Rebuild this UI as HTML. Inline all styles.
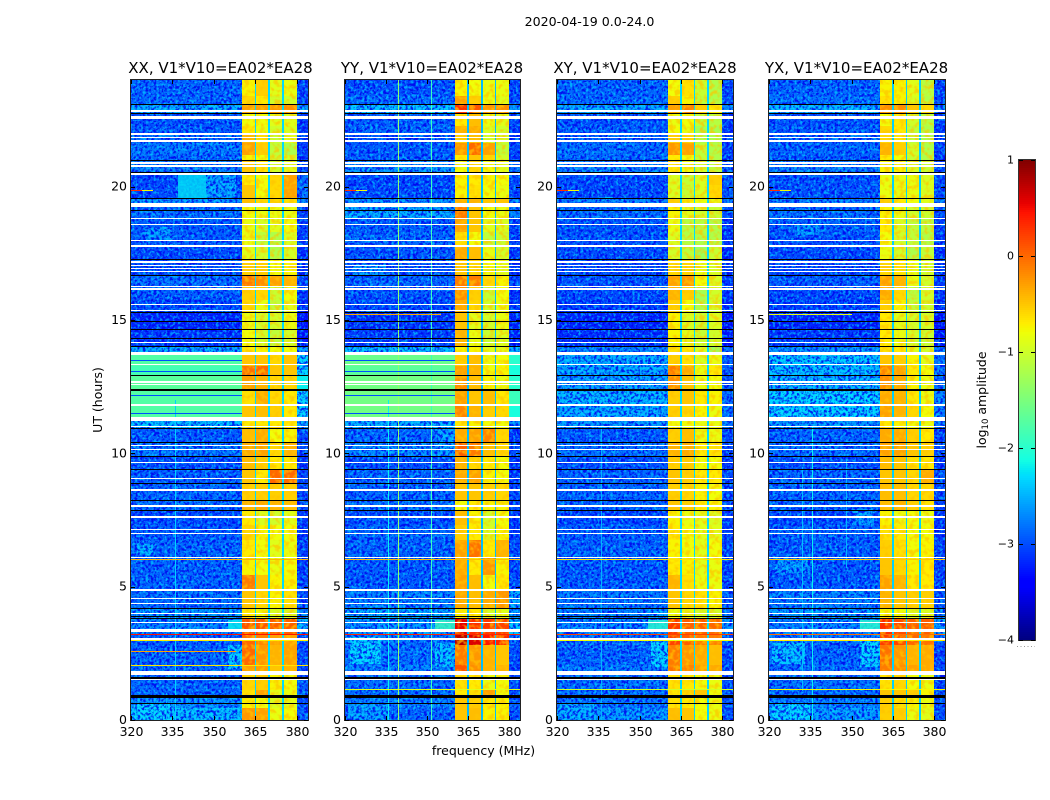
<!DOCTYPE html>
<html lang="en">
<head>
<meta charset="utf-8">
<title>2020-04-19 0.0-24.0</title>
<style>
html,body{margin:0;padding:0;background:#fff;width:1050px;height:800px;overflow:hidden}
svg{display:block}
text{font-family:"DejaVu Sans","Liberation Sans",sans-serif;fill:#000}
</style>
</head>
<body>
<svg id="fig" xmlns="http://www.w3.org/2000/svg" width="1050" height="800" viewBox="0 0 1050 800">
  <defs id="defs">
    <filter id="noise-dark" x="0" y="0" width="100%" height="100%">
      <feTurbulence type="fractalNoise" baseFrequency="0.37" numOctaves="2" seed="4"/>
      <feColorMatrix type="matrix" values="0 0 0 0 0  0 0 0 0 0  0 0 0 0 0.85  5 0 0 0 -2.2"/>
    </filter>
    <filter id="noise-light" x="0" y="0" width="100%" height="100%">
      <feTurbulence type="fractalNoise" baseFrequency="0.37" numOctaves="2" seed="11"/>
      <feColorMatrix type="matrix" values="0 0 0 0 0  0 0 0 0 0.72  0 0 0 0 1  0 5 0 0 -2.5"/>
    </filter>
    <filter id="noise-band" x="0" y="0" width="100%" height="100%">
      <feTurbulence type="fractalNoise" baseFrequency="0.2" numOctaves="2" seed="7"/>
      <feColorMatrix type="matrix" values="0 0 0 0 1  0 0 0 0 0.55  0 0 0 0 0  4 0 0 0 -1.8"/>
    </filter>
  </defs>
  <text x="589.5" y="26" font-size="12.6" text-anchor="middle">2020-04-19 0.0-24.0</text>
  <text x="483.5" y="755" font-size="12.5" text-anchor="middle">frequency (MHz)</text>
  <text transform="translate(102,400) rotate(-90)" font-size="12.5" text-anchor="middle">UT (hours)</text>
  <text transform="translate(986,400) rotate(-90)" font-size="12.5" text-anchor="middle">log<tspan font-size="8.5" dy="2">10</tspan><tspan dy="-2"> amplitude</tspan></text>
  <g id="panels"></g>
  <g id="colorbar"></g>
</svg>
<script>
// ---------- chart data (log10 amplitude, UT hours, MHz) ----------
const panelTitles = ["XX, V1*V10=EA02*EA28", "YY, V1*V10=EA02*EA28", "XY, V1*V10=EA02*EA28", "YX, V1*V10=EA02*EA28"];
const freqTicks = [320, 335, 350, 365, 380];
const utTicks = [0, 5, 10, 15, 20];
const cbarTicks = [1, 0, -1, -2, -3, -4];
const freqEdges = [320, 360.3, 365, 370, 375, 380, 384];
const bandGaps = [365, 370, 375];
const utEdges = [24,23.4,23.06,22.76,22.28,22.01,21.64,21.19,20.96,20.55,20.06,19.58,19.31,18.83,18.3,17.78,17.25,16.69,16.24,15.75,15.3,14.66,14.03,13.72,13.27,12.94,12.38,11.85,11.29,10.95,10.43,9.9,9.41,8.89,8.25,7.87,7.31,6.75,6.11,5.44,4.87,4.16,3.82,3.22,2.81,2.06,1.76,1.12,0.86,0.45,0];

const xxRows = [
[-2.85,-.75,-.55,-.9,-.85,-3.0],[-2.85,-.6,-.7,-1.0,-1.0,-3.0],[-2.5,-.3,-.3,-.25,-.2,-2.6],[-2.95,-.8,-.8,-.9,-.9,-3.1],[-2.9,-.7,-.85,-1.0,-.95,-3.1],
[-2.85,-.4,-.65,-1.05,-.9,-3.1],[-2.75,-.3,-.55,-1.1,-1.2,-3.05],[-2.85,-.75,-.8,-1.05,-1.0,-3.1],[-2.7,-.5,-.65,-1.0,-.9,-3.0],[-3.0,-.7,-.8,-.6,-.3,-2.8],
[-3.0,-.5,-.8,-.6,-.3,-2.8],[-2.6,-.45,-.6,-.6,-.65,-2.6],[-2.8,-.8,-.85,-.85,-.85,-3.0],[-2.9,-.85,-.95,-.9,-.8,-3.0],[-2.9,-.85,-1.1,-1.2,-.95,-3.1],
[-3.0,-.9,-1.0,-1.2,-1.0,-3.2],[-2.95,-.55,-.55,-.8,-.75,-3.1],[-2.8,-.1,-.2,-.3,-.4,-3.0],[-2.9,-.55,-.6,-1.05,-.8,-3.1],[-3.0,-.6,-.85,-1.1,-.9,-3.2],
[-3.2,-.85,-1.0,-1.0,-.85,-3.3],[-3.1,-.8,-1.0,-1.1,-1.0,-3.3],[-2.5,-.7,-.75,-.8,-.8,-2.6],[-1.75,-.5,-.5,-.6,-.5,-2.3],[-1.85,-.05,0,-.5,-.5,-2.3],
[-1.7,-.3,-.4,-.6,-.6,-2.2],[-1.75,-.65,-.35,-.6,-.7,-2.3],[-1.75,-.5,-.45,-.55,-.7,-2.3],[-2.4,-.7,-.7,-.7,-.7,-2.5],[-2.9,-.45,-.35,-.8,-.75,-3.0],
[-2.75,-.35,-.3,-.6,-.4,-3.0],[-2.95,-.45,-.55,-.7,-.7,-3.1],[-2.9,-.5,-.7,0,0,-3.0],[-2.85,-.55,-.55,-.55,-.55,-3.0],[-2.8,-.4,-.35,-.4,-.45,-3.0],
[-3.0,-.7,-.95,-1.0,-.9,-3.1],[-2.9,-.6,-.75,-.8,-.8,-3.1],[-2.85,-.7,-.8,-.9,-.85,-3.0],[-2.85,-.75,-.8,-.85,-.8,-3.05],[-2.85,-.1,-.5,-.75,-.75,-3.0],
[-2.8,-.5,-.6,-.75,-.65,-3.0],[-2.6,-.7,-.8,-.95,-.95,-2.7],[-2.7,.1,.1,.05,.05,-2.5],[-2.9,0,-.15,-.3,-.3,-3.0],[-2.85,0,-.25,-.4,-.3,-3.0],
[-2.8,-.3,-.3,-.5,-.4,-3.0],[-2.85,-.6,-.55,-.75,-.8,-2.9],[-2.85,-.65,-.3,-.9,-.85,-2.8],[-2.6,-.75,-.8,-.95,-.9,-3.0],[-2.4,-.25,-.3,-.85,-.8,-2.9]];

const yyRows = [
[-2.95,-.75,-.8,-.85,-.85,-3.0],[-2.8,-.3,-.55,-.85,-.9,-2.95],[-2.4,.3,.1,-.25,-.2,-2.6],[-2.9,-.7,-.45,-.85,-.9,-3.0],[-2.85,-.4,-.35,-.95,-1.0,-3.1],
[-2.95,-.55,-.45,-1.0,-1.0,-3.1],[-2.9,-.25,0,-.3,-1.1,-3.0],[-2.9,-.7,-.5,-.6,-1.0,-3.1],[-2.6,-.8,-.6,-.8,-.9,-2.8],[-3.0,-.75,-.7,-.75,-.8,-3.0],
[-3.0,-.75,-.65,-.8,-.85,-3.0],[-2.6,-.4,-.4,-.5,-.5,-2.7],[-2.5,-.1,-.5,-.8,-.85,-2.7],[-2.9,-.3,-.5,-.9,-.95,-3.0],[-2.85,-.65,-.8,-1.1,-1.05,-3.0],
[-2.95,-.35,-.45,-.85,-1.0,-3.1],[-2.95,-.5,-.6,-.8,-.9,-3.1],[-2.85,-.1,-.1,-.6,-.75,-3.0],[-2.95,-.2,-.55,-1.05,-.8,-3.1],[-3.0,-.35,-.6,-1.0,-.85,-3.1],
[-3.1,-.5,-.9,-1.0,-.85,-3.2],[-3.05,-.4,-.85,-1.05,-.95,-3.2],[-2.4,-.75,-.75,-.9,-.9,-2.5],[-1.6,-.55,-.45,-.85,-.8,-2.0],[-1.7,-.3,-.4,-.8,-.75,-2.1],
[-1.55,-.2,-.45,-.75,-.85,-2.0],[-1.55,-.3,-.5,-.45,-.7,-1.9],[-1.55,-.15,-.4,-.55,-.6,-2.1],[-2.5,-.7,-.75,-.8,-.8,-2.7],[-2.85,-.35,-.3,-.15,-.6,-3.1],
[-2.7,.05,-.1,-.45,-.6,-3.0],[-2.95,-.4,-.6,-.7,-.8,-3.1],[-2.85,-.35,-.3,-.75,-.8,-3.1],[-2.85,-.5,-.5,-.55,-.6,-3.0],[-2.8,-.8,-.7,-.75,-.75,-3.0],
[-2.95,-.45,-.75,-1.0,-.8,-3.1],[-2.85,-.55,-.7,-.95,-.75,-3.1],[-2.85,-.3,-.05,-.7,-.4,-3.0],[-2.9,-.35,-.7,-.25,-.75,-3.05],[-2.9,-.3,-.45,-.8,-.7,-3.0],
[-2.7,-.35,-.45,-.35,-.25,-2.5],[-2.5,-.75,-.7,-1.0,-.9,-2.6],[-2.6,.55,.3,.25,.2,-2.4],[-2.75,.75,.6,.45,.35,-2.8],[-2.8,-.1,-.25,-.4,-.5,-3.0],
[-2.7,.1,-.2,-.4,-.4,-3.0],[-2.8,-.65,-.7,-.85,-.8,-3.0],[-2.8,-.7,-.65,-.3,-.8,-2.9],[-2.7,-.5,-.55,-.7,-.75,-2.9],[-2.85,-.5,-.45,-.75,-.75,-2.95]];

const xyRows = [
[-2.85,-.8,-.65,-1.05,-1.2,-3.0],[-2.8,-.55,-.75,-1.1,-1.2,-3.0],[-2.5,-.3,-.15,-.55,-.7,-2.7],[-2.95,-.85,-.8,-1.1,-1.15,-3.1],[-2.9,-.8,-.85,-1.25,-1.25,-3.1],
[-2.9,-.55,-.6,-1.2,-1.2,-3.1],[-2.8,-.25,-.3,-1.1,-1.2,-3.05],[-2.85,-.7,-.8,-1.1,-1.2,-3.1],[-2.7,-.7,-.8,-1.0,-1.1,-3.0],[-3.0,-.95,-1.05,-.95,-.55,-2.9],
[-3.0,-.95,-1.05,-.95,-.6,-2.9],[-2.7,-.55,-.75,-.85,-.85,-2.8],[-2.8,-.75,-.9,-1.0,-1.05,-3.0],[-2.95,-.85,-1.15,-1.15,-1.2,-3.1],[-2.95,-.95,-1.15,-1.2,-1.2,-3.1],
[-3.0,-1.0,-1.1,-1.3,-1.05,-3.2],[-3.0,-.6,-.6,-.85,-.95,-3.1],[-2.95,-.3,-.25,-.8,-.95,-3.1],[-3.0,-.4,-.55,-1.25,-1.0,-3.1],[-3.05,-.55,-.8,-1.2,-1.0,-3.2],
[-3.2,-.75,-.95,-1.05,-.95,-3.3],[-3.15,-.75,-.9,-1.05,-1.0,-3.3],[-2.7,-.65,-.7,-.95,-1.3,-2.8],[-2.5,-.55,-.65,-.95,-.85,-2.9],[-2.5,-.1,-.35,-.85,-.7,-2.9],
[-2.55,-.2,-.5,-.85,-.8,-2.9],[-2.45,-.55,-.5,-.7,-.75,-2.8],[-2.5,-.55,-.6,-.75,-.85,-2.8],[-2.6,-.8,-.8,-.85,-.85,-2.8],[-2.9,-.55,-.45,-.85,-.85,-3.0],
[-2.8,-.4,-.35,-.7,-.65,-3.0],[-2.95,-.55,-.55,-.8,-.8,-3.1],[-2.85,-.5,-.55,-.7,-.7,-3.0],[-2.85,-.55,-.6,-.75,-.8,-3.0],[-2.85,-.5,-.55,-.7,-.75,-3.0],
[-3.0,-.75,-.85,-.9,-.95,-3.1],[-2.9,-.7,-.8,-.9,-.9,-3.1],[-2.85,-.75,-.8,-.9,-.8,-3.0],[-2.9,-.7,-.75,-.9,-.85,-3.05],[-2.9,-.4,-.65,-.85,-.85,-3.0],
[-2.75,-.5,-.6,-.65,-.75,-2.9],[-2.7,-.85,-.85,-1.0,-1.0,-2.8],[-2.7,.25,.05,.05,0,-2.6],[-2.8,.2,.05,-.1,-.1,-2.9],[-2.85,-.1,-.25,-.35,-.45,-3.0],
[-2.75,-.05,-.15,-.3,-.35,-3.0],[-2.8,-.65,-.7,-.8,-.85,-3.0],[-2.8,-.7,-.6,-.5,-.8,-2.9],[-2.75,-.65,-.7,-.8,-.85,-2.95],[-2.6,-.45,-.5,-.8,-.85,-2.95]];

const yxRows = [
[-2.85,-.75,-.75,-.9,-1.15,-3.0],[-2.8,-.65,-.75,-.95,-1.2,-3.0],[-2.45,-.2,-.2,-.5,-.6,-2.7],[-2.95,-.8,-.7,-1.0,-1.15,-3.1],[-2.9,-.6,-.7,-1.1,-1.2,-3.1],
[-2.9,-.6,-.65,-1.1,-1.2,-3.1],[-2.85,-.4,-.55,-1.0,-1.2,-3.05],[-2.9,-.7,-.8,-1.05,-1.2,-3.1],[-2.7,-.75,-.75,-.95,-1.05,-3.0],[-2.95,-.85,-.85,-.85,-.95,-3.0],
[-2.95,-.85,-.85,-.85,-.95,-3.0],[-2.7,-.55,-.7,-.8,-.9,-2.8],[-2.8,-.75,-.85,-1.0,-1.05,-3.0],[-2.85,-.7,-.95,-1.1,-1.15,-3.1],[-2.95,-.8,-1.0,-1.1,-1.2,-3.1],
[-3.0,-.85,-1.0,-1.2,-1.1,-3.2],[-3.0,-.6,-.65,-.85,-1.0,-3.1],[-2.9,-.3,-.4,-.85,-1.0,-3.1],[-3.0,-.35,-.6,-1.15,-1.0,-3.1],[-3.05,-.55,-.75,-1.1,-1.05,-3.2],
[-3.2,-.7,-.9,-1.0,-1.0,-3.3],[-3.1,-.7,-.85,-1.0,-1.05,-3.3],[-2.6,-.65,-.7,-.9,-1.0,-2.8],[-2.35,-.5,-.55,-.75,-.9,-2.8],[-2.4,-.15,-.3,-.7,-.8,-2.8],
[-2.45,-.2,-.35,-.75,-.85,-2.8],[-2.3,-.35,-.4,-.7,-.85,-2.7],[-2.3,-.3,-.4,-.6,-.8,-2.7],[-2.6,-.7,-.75,-.8,-.85,-2.8],[-2.85,-.35,-.35,-.55,-.7,-3.0],
[-2.8,-.3,-.3,-.5,-.55,-3.0],[-2.95,-.45,-.5,-.65,-.7,-3.1],[-2.85,-.5,-.5,-.6,-.35,-2.9],[-2.85,-.45,-.45,-.6,-.6,-3.0],[-2.85,-.45,-.4,-.55,-.65,-3.0],
[-3.0,-.75,-.85,-.8,-.85,-3.1],[-2.85,-.65,-.7,-.8,-.8,-3.1],[-2.9,-.55,-.65,-.8,-.75,-3.0],[-2.9,-.5,-.6,-.75,-.7,-3.05],[-2.9,-.3,-.4,-.7,-.7,-3.0],
[-2.7,-.4,-.5,-.55,-.55,-2.9],[-2.6,-.8,-.8,-.95,-.95,-2.7],[-2.7,.3,.15,.05,.05,-2.6],[-2.8,.25,.2,0,-.05,-2.9],[-2.85,-.05,-.25,-.4,-.35,-3.0],
[-2.8,-.1,-.2,-.3,-.35,-3.0],[-2.8,-.65,-.6,-.8,-.85,-3.0],[-2.8,-.5,-.5,-.55,-.75,-2.9],[-2.7,-.55,-.65,-.75,-.85,-2.95],[-2.55,-.55,-.55,-.85,-.9,-2.95]];

const panelRows = [xxRows, yyRows, xyRows, yxRows];
const gapValues = [-2.3, -2.45, -2.3, -2.35];

// patches: panel index, freq start, freq end, UT start, UT end, value
const patchPanel = [0,0,0,0,0,1,1,1,2,2,3,3,3,3,1,2,2,0,1,3,0,3,1,2,3];
const patchFreqA = [337,347,321,355,355,321,353,354,354,321,321,353,321,322,322,354,335,325,323,350,322,330,353,353,353];
const patchFreqB = [347,358,335,360.3,360.3,336,360.3,360.3,360.3,334,335,360.3,333,334,333,360.3,342,335,335,358,328,338,360.3,360.3,360.3];
const patchUtA  = [19.56,19.56,0,1.9,3.3,0,2.0,9.9,2.0,0,0,2.0,2.1,5.5,2.1,3.85,20.55,18.0,16.7,7.3,6.2,18.2,3.3,3.3,3.3];
const patchUtB  = [20.5,20.5,0.62,2.8,3.75,0.6,2.9,10.9,3.0,0.6,0.6,3.0,2.9,6.1,3.1,4.1,19.6,18.5,17.1,7.9,6.6,18.6,3.75,3.75,3.75];
const patchValue = [-2.25,-2.55,-2.3,-2.35,-2.2,-2.55,-2.4,-2.55,-2.3,-2.5,-2.3,-2.3,-2.4,-2.6,-2.3,-2.5,-2.6,-2.6,-2.6,-2.6,-2.5,-2.6,-1.9,-2.0,-2.0];

// vertical RFI lines: panel index, frequency, value, UT start, UT end
const rfiVPanel = [1,1,1,0,3,3,2,0,3];
const rfiVFreq  = [339.7,351.8,336,336,335.7,332,336,333,348];
const rfiVValue = [-1.4,-1.9,-2.2,-2.35,-2.2,-2.45,-2.5,-2.5,-2.5];
const rfiVUtA   = [0,0,0,0,0,1.1,0,0,5.7];
const rfiVUtB   = [24,24,12,12,11,9.5,11,1,9.8];

// horizontal RFI lines: panel index, UT, freq start, freq end, value
const rfiHPanel = [0,0,1,1,2,2,3,3,0,1,2,3,0,2,3,0,0,1,3,2,0,1,2,3,1,3];
const rfiHUt    = [19.86,19.86,19.86,19.86,19.86,19.86,19.86,19.86,3.21,3.21,3.21,3.21,2.99,2.99,2.99,2.58,2.05,1.15,1.15,1.15,6.03,6.03,6.03,6.03,15.22,15.22];
const rfiHFreqA = [320,324,320,324,320,324,320,324,320,320,320,320,320,320,320,320,320,320,320,320,320,320,320,320,320,320];
const rfiHFreqB = [324,328,324,328,324,328,324,328,384,384,384,384,384,384,384,358,384,384,384,384,384,384,384,384,355,350];
const rfiHValue = [.3,-.8,.3,-.8,.3,-.8,.3,-.8,.45,.35,.2,-.05,-.7,-.8,-.7,-.3,-.65,-.9,-.75,-1.0,-.4,-.45,-.65,-.5,-.35,-.85];

// dark blue channel dropouts in the high-level stretch (XX and YY)
const darkLinesUt = [13.7,13.47,13.07,12.18,11.84,11.5];

// flagged (blank) integrations: centre UT and duration in hours
const whiteUt  = [22.84,22.58,21.98,21.85,21.71,20.89,20.78,20.48,19.31,18.81,18.59,17.99,17.78,17.19,17.04,16.92,16.81,16.25,16.16,15.57,15.36,14.15,13.75,13.34,12.67,12.57,11.81,11.28,11.0,10.3,10.15,9.66,9.05,8.63,8.03,7.61,7.15,7.0,6.1,4.87,4.56,4.37,4.0,3.65,3.35,3.04,1.77,1.53];
const whiteDur = [.05,.11,.05,.05,.05,.05,.09,.1,.12,.05,.05,.05,.07,.08,.05,.05,.05,.05,.05,.05,.05,.05,.09,.05,.05,.05,.05,.13,.05,.05,.05,.05,.05,.1,.1,.1,.05,.05,.05,.05,.05,.05,.05,.05,.1,.05,.14,.07];
const blackUt  = [23.07,22.76,20.97,20.54,19.56,19.11,17.26,16.68,15.29,14.95,14.66,14.31,14.0,12.93,12.375,10.94,10.41,9.89,9.4,8.88,8.24,7.86,4.17,3.87,3.81,1.59,0.87,0.63];
const blackDur = [.04,.04,.04,.05,.04,.04,.04,.04,.05,.04,.04,.04,.04,.05,.04,.04,.04,.04,.04,.04,.04,.04,.05,.04,.04,.08,.11,.04];

// ---------- layout ----------
const panelBoxes = [{x:131,w:177,tc:220.5},{x:345,w:175,tc:432},{x:557,w:176,tc:645},{x:769,w:176,tc:856.5}];
const plotTop = 80, plotHeight = 640, utMax = 24, freqMin = 320, freqMax = 384;
const cbarBox = {x:1019, y:160, w:16, h:480};
const NS = "http://www.w3.org/2000/svg";
const noiseLimit = -2.2;
const smoothPatchLimit = -2.27;

function xAxis(box, f){ return box.x + (f - freqMin) / (freqMax - freqMin) * box.w; }
function yAxis(h){ return plotTop + (utMax - h) / utMax * plotHeight; }
function cbarAxis(v){ return cbarBox.y + (1 - v) / 5 * cbarBox.h; }

function jetChannel(t, pts){
  for (let i = 1; i < pts.length; i++) {
    if (t <= pts[i][0]) {
      const a = pts[i-1], b = pts[i];
      return a[1] + (b[1]-a[1]) * (t-a[0]) / (b[0]-a[0]);
    }
  }
  return pts[pts.length-1][1];
}
function jet(v){
  const t = Math.max(0, Math.min(1, (v + 4) / 5));
  const r = jetChannel(t, [[0,0],[.35,0],[.66,1],[.89,1],[1,.5]]);
  const g = jetChannel(t, [[0,0],[.125,0],[.375,1],[.64,1],[.91,0],[1,0]]);
  const b = jetChannel(t, [[0,.5],[.11,1],[.34,1],[.65,0],[1,0]]);
  return "rgb(" + Math.round(r*255) + "," + Math.round(g*255) + "," + Math.round(b*255) + ")";
}
function make(tag, parent, attrs){
  const el = document.createElementNS(NS, tag);
  for (const k in attrs) el.setAttribute(k, attrs[k]);
  parent.appendChild(el);
  return el;
}
function bar(parent, box, fA, fB, hHi, hLo, fill){
  const x0 = Math.round(xAxis(box, fA)), x1 = Math.round(xAxis(box, fB));
  const y0 = Math.round(yAxis(hHi)), y1 = Math.round(yAxis(hLo));
  return make("rect", parent, {x:x0, y:y0, width:Math.max(1,x1-x0), height:Math.max(1,y1-y0), fill:fill, "shape-rendering":"crispEdges"});
}

const panelsRoot = document.getElementById("panels");
const defsRoot = document.getElementById("defs");
panelBoxes.forEach(function(box, p){
  const g = make("g", panelsRoot, {});
  
  

  const rows = panelRows[p];
  const clip = make("clipPath", defsRoot, {id:"noise-clip-" + p});
  const bandClip = make("clipPath", defsRoot, {id:"band-clip-" + p});
  bar(bandClip, box, freqEdges[1], freqEdges[5], utMax, 0, "#000");
  rows.forEach(function(row, r){
    row.forEach(function(v, c){
      const cell = bar(g, box, freqEdges[c], freqEdges[c+1], utEdges[r], utEdges[r+1], jet(v));
      
      
    });
    if (row[0] < noiseLimit) bar(clip, box, freqEdges[0], freqEdges[1], utEdges[r], utEdges[r+1], "#000");
    if (row[5] < noiseLimit) bar(clip, box, freqEdges[5], freqEdges[6], utEdges[r], utEdges[r+1], "#000");
  });

  const bandNoise = make("g", g, {"clip-path":"url(#band-clip-" + p + ")"});
  
  
  make("rect", bandNoise, {x:box.x, y:plotTop, width:box.w, height:plotHeight, filter:"url(#noise-band)", opacity:0.7});

  patchPanel.forEach(function(pi, i){
    if (pi !== p || patchValue[i] > smoothPatchLimit) return;
    const patch = bar(g, box, patchFreqA[i], patchFreqB[i], patchUtB[i], patchUtA[i], jet(patchValue[i]));
    
    
  });

  bandGaps.forEach(function(f){
    const gap = bar(g, box, f-0.3, f+0.3, utMax, 0, jet(gapValues[p]));
    
    
  });

  const noise = make("g", g, {"clip-path":"url(#noise-clip-" + p + ")"});
  
  
  make("rect", noise, {x:box.x, y:plotTop, width:box.w, height:plotHeight, filter:"url(#noise-dark)", opacity:0.85});
  make("rect", noise, {x:box.x, y:plotTop, width:box.w, height:plotHeight, filter:"url(#noise-light)", opacity:0.6});

  patchPanel.forEach(function(pi, i){
    if (pi !== p || patchValue[i] <= smoothPatchLimit) return;
    const patch = bar(g, box, patchFreqA[i], patchFreqB[i], patchUtB[i], patchUtA[i], jet(patchValue[i]));
    patch.setAttribute('fill-opacity', '0.8');
    
    
  });

  rfiVPanel.forEach(function(pi, i){
    if (pi !== p) return;
    const v = bar(g, box, rfiVFreq[i]-0.18, rfiVFreq[i]+0.18, rfiVUtB[i], rfiVUtA[i], jet(rfiVValue[i]));
    
    
  });

  if (p < 2) darkLinesUt.forEach(function(h){
    const d = bar(g, box, freqMin, 360.3, h+0.02, h-0.02, jet(-3.0));
    
    
  });

  rfiHPanel.forEach(function(pi, i){
    if (pi !== p) return;
    const l = bar(g, box, rfiHFreqA[i], rfiHFreqB[i], rfiHUt[i]+0.02, rfiHUt[i]-0.02, jet(rfiHValue[i]));
    
    
  });

  whiteUt.forEach(function(h, i){
    const w = bar(g, box, freqMin, freqMax, h+whiteDur[i]/2, h-whiteDur[i]/2, "#fff");
    
    
  });
  blackUt.forEach(function(h, i){
    const k = bar(g, box, freqMin, freqMax, h+blackDur[i]/2, h-blackDur[i]/2, "#000");
    
    
  });

  const frame = make("rect", g, {x:box.x-0.5, y:plotTop-0.5, width:box.w+1, height:plotHeight+1, fill:"none", stroke:"#222", "stroke-width":1, "shape-rendering":"crispEdges"});
  
  

  const title = make("text", g, {x:box.tc, y:73, "font-size":"15", "text-anchor":"middle"});
  title.textContent = panelTitles[p];
  
  

  freqTicks.forEach(function(f){
    const x = Math.round(xAxis(box, f)) + 0.5;
    const t1 = make("line", g, {x1:x, x2:x, y1:plotTop+640, y2:plotTop+636, stroke:"#000", "stroke-width":1});
    
    
    const t2 = make("line", g, {x1:x, x2:x, y1:plotTop, y2:plotTop+4, stroke:"#000", "stroke-width":1});
    
    
    const lab = make("text", g, {x:x, y:736, "font-size":"12.5", "text-anchor":"middle"});
    lab.textContent = String(f);
    
    
  });

  utTicks.forEach(function(h){
    const y = Math.round(yAxis(h)) + 0.5;
    const t1 = make("line", g, {x1:box.x, x2:box.x+4, y1:y, y2:y, stroke:"#000", "stroke-width":1});
    
    
    const t2 = make("line", g, {x1:box.x+box.w, x2:box.x+box.w-4, y1:y, y2:y, stroke:"#000", "stroke-width":1});
    
    
    const lab = make("text", g, {x:box.x-4, y:yAxis(h)+4, "font-size":"12.5", "text-anchor":"end"});
    lab.textContent = String(h);
    
    
  });
});

// ---------- colorbar ----------
const cb = document.getElementById("colorbar");
for (let i = 0; i < cbarBox.h; i += 2) {
  const v = 1 - (i + 1) / cbarBox.h * 5;
  const seg = make("rect", cb, {x:cbarBox.x, y:cbarBox.y + i, width:cbarBox.w, height:2, fill:jet(v), "shape-rendering":"crispEdges"});
  
  
}
const cbFrame = make("rect", cb, {x:cbarBox.x-0.5, y:cbarBox.y-0.5, width:cbarBox.w+1, height:cbarBox.h+1, fill:"none", stroke:"#333", "stroke-width":1, "shape-rendering":"crispEdges"});


cbarTicks.forEach(function(v){
  const y = Math.round(cbarAxis(v)) + 0.5;
  const t1 = make("line", cb, {x1:cbarBox.x, x2:cbarBox.x+4, y1:y, y2:y, stroke:"#000", "stroke-width":1});
  
  
  const t2 = make("line", cb, {x1:cbarBox.x+cbarBox.w, x2:cbarBox.x+cbarBox.w-4, y1:y, y2:y, stroke:"#000", "stroke-width":1});
  
  
  const lab = make("text", cb, {x:cbarBox.x-5, y:cbarAxis(v)+3.5, "font-size":"11", "text-anchor":"end"});
  lab.textContent = v < 0 ? "\u2212" + Math.abs(v) : String(v);
  
  
});
const dotted = make("line", cb, {x1:cbarBox.x-2, x2:cbarBox.x+cbarBox.w, y1:646.5, y2:646.5, stroke:"#999", "stroke-width":1, "stroke-dasharray":"1 2.5"});


</script>
</body>
</html>
